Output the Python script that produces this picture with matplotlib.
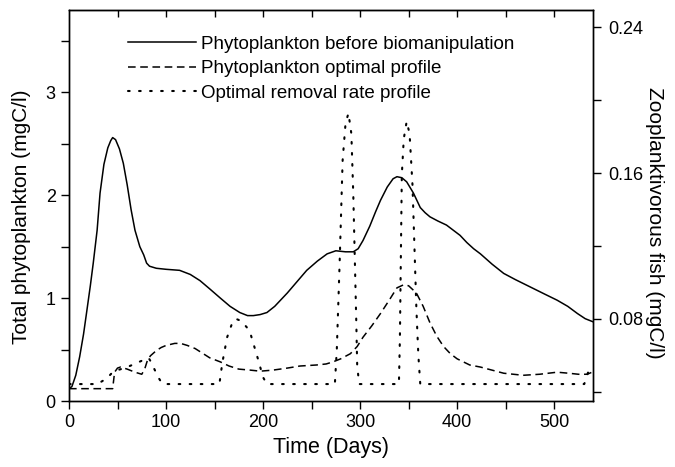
import numpy as np
import matplotlib
matplotlib.use("Agg")
import matplotlib.pyplot as plt
from matplotlib.ticker import MultipleLocator

plt.rcParams['font.family'] = ['Liberation Sans', 'DejaVu Sans']

# Phytoplankton before biomanipulation (mgC/l)
days_before = [0, 3, 7, 11, 15, 18, 22, 25, 29, 32, 36, 40, 43, 45, 48, 52, 56, 60, 64, 68,
               73, 77, 80, 83, 90, 100, 114, 125, 135, 145, 156, 166, 176, 184, 190, 197,
               204, 212, 225, 235, 245, 256, 266, 275, 285, 293, 298, 303, 310, 316, 321,
               328, 334, 338, 343, 348, 355, 362, 367, 372, 380, 389, 396, 403, 410, 417,
               424, 436, 448, 460, 475, 490, 503, 514, 524, 532, 540]
phyto_before = [0.12, 0.14, 0.25, 0.43, 0.65, 0.85, 1.12, 1.34, 1.66, 2.02, 2.30, 2.46, 2.53,
                2.56, 2.54, 2.45, 2.31, 2.10, 1.86, 1.66, 1.50, 1.42, 1.34, 1.31, 1.29, 1.28,
                1.27, 1.23, 1.17, 1.09, 1.00, 0.92, 0.86, 0.83, 0.83, 0.84, 0.86, 0.92, 1.05,
                1.16, 1.27, 1.36, 1.43, 1.46, 1.45, 1.45, 1.48, 1.56, 1.70, 1.84, 1.95, 2.08,
                2.16, 2.18, 2.17, 2.13, 2.02, 1.88, 1.83, 1.79, 1.75, 1.71, 1.66, 1.61, 1.54,
                1.48, 1.43, 1.33, 1.24, 1.18, 1.11, 1.04, 0.98, 0.92, 0.85, 0.80, 0.77]

# Phytoplankton optimal profile (mgC/l)
days_opt = [0, 45, 47, 50, 53, 60, 68, 75, 78, 81, 84, 90, 95, 100, 109, 115, 122, 130, 135,
            145, 156, 165, 175, 187, 197, 210, 225, 238, 255, 265, 272, 280, 290, 297, 303,
            312, 321, 330, 338, 345, 350, 358, 365, 372, 379, 386, 393, 400, 413, 424, 436,
            448, 468, 485, 503, 515, 525, 534, 539]
phyto_opt = [0.12, 0.12, 0.28, 0.32, 0.33, 0.31, 0.28, 0.26, 0.31, 0.40, 0.44, 0.49, 0.52,
             0.54, 0.56, 0.56, 0.54, 0.51, 0.48, 0.42, 0.38, 0.34, 0.31, 0.30, 0.29, 0.30,
             0.32, 0.34, 0.35, 0.36, 0.38, 0.41, 0.46, 0.53, 0.62, 0.73, 0.85, 0.98, 1.10,
             1.13, 1.12, 1.05, 0.92, 0.76, 0.63, 0.53, 0.46, 0.41, 0.35, 0.33, 0.30, 0.27,
             0.25, 0.26, 0.28, 0.27, 0.26, 0.26, 0.28]

# Optimal removal rate profile, zooplanktivorous fish (mgC/l)
days_rem = [0, 30, 33, 39, 45, 50, 60, 70, 78, 82, 85, 87, 92, 96, 97, 155, 158, 163, 168,
            172, 177, 183, 187, 190, 195, 200, 204, 274, 276, 279, 282, 285, 288, 291, 293,
            294.5, 296, 297, 299, 340, 341, 342, 343, 345, 348, 351, 354, 356, 358, 360,
            362, 531, 535, 539]
removal = [0.0443, 0.0443, 0.0455, 0.0474, 0.0508, 0.0519, 0.0536, 0.0559, 0.0578, 0.0587,
           0.0560, 0.0536, 0.0480, 0.0446, 0.0443, 0.0443, 0.0559, 0.0700, 0.0775, 0.0801,
           0.0790, 0.0756, 0.0720, 0.0666, 0.0576, 0.0480, 0.0443, 0.0443, 0.0632, 0.1123,
           0.1670, 0.1873, 0.1929, 0.1816, 0.1478, 0.1140, 0.0801, 0.0547, 0.0443, 0.0443,
           0.0688, 0.1140, 0.1591, 0.1788, 0.1884, 0.1816, 0.1534, 0.1196, 0.0858, 0.0604,
           0.0443, 0.0443, 0.0508, 0.0519]

fig = plt.figure(figsize=(6.75, 4.67), dpi=100)
ax = fig.add_axes([0.1022, 0.1413, 0.7763, 0.8373])
ax2 = ax.twinx()

l1, = ax.plot(days_before, phyto_before, color='black', lw=1.1, ls='-')
l2, = ax.plot(days_opt, phyto_opt, color='black', lw=1.1, ls=(0, (5, 3)))
l3, = ax2.plot(days_rem, removal, color='black', lw=1.5, ls=(0, (0.8, 4.5)),
               dash_capstyle='round')

ax.set_xlim(0, 540)
ax.set_ylim(0, 3.8)
ax2.set_ylim(0.035, 0.2495)

ax.xaxis.set_major_locator(MultipleLocator(100))
ax.xaxis.set_minor_locator(MultipleLocator(50))
ax.yaxis.set_major_locator(MultipleLocator(1))
ax.yaxis.set_minor_locator(MultipleLocator(0.5))
ax2.set_yticks([0.08, 0.16, 0.24])
ax2.set_yticklabels(['0.08', '0.16', '0.24'])
ax2.yaxis.set_minor_locator(MultipleLocator(0.04))

ax.tick_params(which='both', direction='out', top=False, right=False, labelsize=13,
               width=1, length=6)
ax2.tick_params(which='both', direction='out', labelsize=13, width=1, length=6, pad=5)

# inward ticks along the top edge every 50 days
top = ax.secondary_xaxis('top')
top.set_xticks(np.arange(50, 540, 50))
top.tick_params(direction='in', length=5, width=1, labeltop=False)

for a in (ax, ax2):
    for s in a.spines.values():
        s.set_linewidth(1)

ax.set_xlabel('Time (Days)', fontsize=15.5)
ax.set_ylabel('Total phytoplankton (mgC/l)', fontsize=15, ha='center', va='center')
ax.yaxis.set_label_coords(-0.09, 0.47)
ax2.set_ylabel('Zooplanktivorous fish (mgC/l)', fontsize=15, rotation=270,
               ha='center', va='center')
ax2.yaxis.set_label_coords(1.118, 0.455)

ax.legend([l1, l2, l3],
          ['Phytoplankton before biomanipulation', 'Phytoplankton optimal profile',
           'Optimal removal rate profile'],
          loc='upper left', bbox_to_anchor=(0.113, 0.935), frameon=False, fontsize=13.5,
          handlelength=3.6, handletextpad=0.3, labelspacing=0.4, borderaxespad=0,
          borderpad=0)

fig.savefig('out.png', dpi=100)
